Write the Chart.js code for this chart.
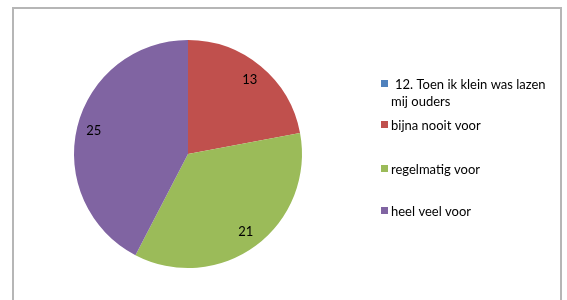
<!DOCTYPE html>
<html>
<head>
<meta charset="utf-8">
<script src="https://cdn.jsdelivr.net/npm/chart.js@4.4.0/dist/chart.umd.min.js"></script>
<style>
  html, body { margin: 0; padding: 0; background: #fff; }
  #wrap { position: relative; width: 567px; height: 300px; overflow: hidden; }
  #frame {
    position: absolute; left: 12px; top: 7px; width: 546px; height: 320px;
    border: 2px solid #b6b6b6;
  }
  canvas { position: absolute; left: 0; top: 0; }
</style>
</head>
<body>
<div id="wrap">
  <div id="frame"></div>
  <canvas id="pie" width="567" height="300"></canvas>
</div>
<script>
// 데이터
const categories = [" 12. Toen ik klein was lazen mij ouders", "bijna nooit voor", "regelmatig voor", "heel veel voor"];
const legendLines = [["12. Toen ik klein was lazen", "mij ouders"], ["bijna nooit voor"], ["regelmatig voor"], ["heel veel voor"]];
const values = [0, 13, 21, 25];
const colors = ["#4F81BD", "#C0504D", "#9BBB59", "#8064A2"];

const FONT = "13px Lato, 'Open Sans', sans-serif";

// 조각 안에 값 표시
const valueLabelPlugin = {
  id: "valueLabels",
  afterDatasetsDraw(chart) {
    const { ctx } = chart;
    const meta = chart.getDatasetMeta(0);
    ctx.save();
    ctx.font = FONT;
    ctx.fillStyle = "#000";
    ctx.textAlign = "center";
    ctx.textBaseline = "middle";
    meta.data.forEach((arc, i) => {
      if (!values[i]) return;
      const p = arc.getProps(["x", "y", "startAngle", "endAngle", "outerRadius"], true);
      const mid = (p.startAngle + p.endAngle) / 2;
      const r = p.outerRadius * 0.85;
      ctx.fillText(String(values[i]), p.x + Math.cos(mid) * r, p.y + Math.sin(mid) * r);
    });
    ctx.restore();
  }
};

// 오른쪽 범례 (엑셀 스타일 간격)
const legendPlugin = {
  id: "sideLegend",
  afterDraw(chart) {
    const { ctx } = chart;
    const markerY = [83, 124, 168, 210];
    ctx.save();
    ctx.font = FONT;
    ctx.textBaseline = "middle";
    legendLines.forEach((lines, i) => {
      ctx.fillStyle = colors[i];
      ctx.fillRect(381, markerY[i] - 3, 7, 7);
      ctx.fillStyle = "#000";
      const x = i === 0 ? 395 : 391;
      lines.forEach((t, k) => {
        ctx.fillText(t, k === 0 ? x : 391, markerY[i] + 1.5 + k * 17);
      });
    });
    ctx.restore();
  }
};

new Chart(document.getElementById("pie").getContext("2d"), {
  type: "pie",
  data: {
    labels: categories,
    datasets: [{
      data: values,
      backgroundColor: colors,
      borderWidth: 0
    }]
  },
  options: {
    responsive: false,
    animation: false,
    layout: { padding: { left: 74, right: 265, top: 40, bottom: 32 } },
    plugins: {
      legend: { display: false },
      tooltip: { enabled: false }
    }
  },
  plugins: [valueLabelPlugin, legendPlugin]
});
</script>
</body>
</html>
